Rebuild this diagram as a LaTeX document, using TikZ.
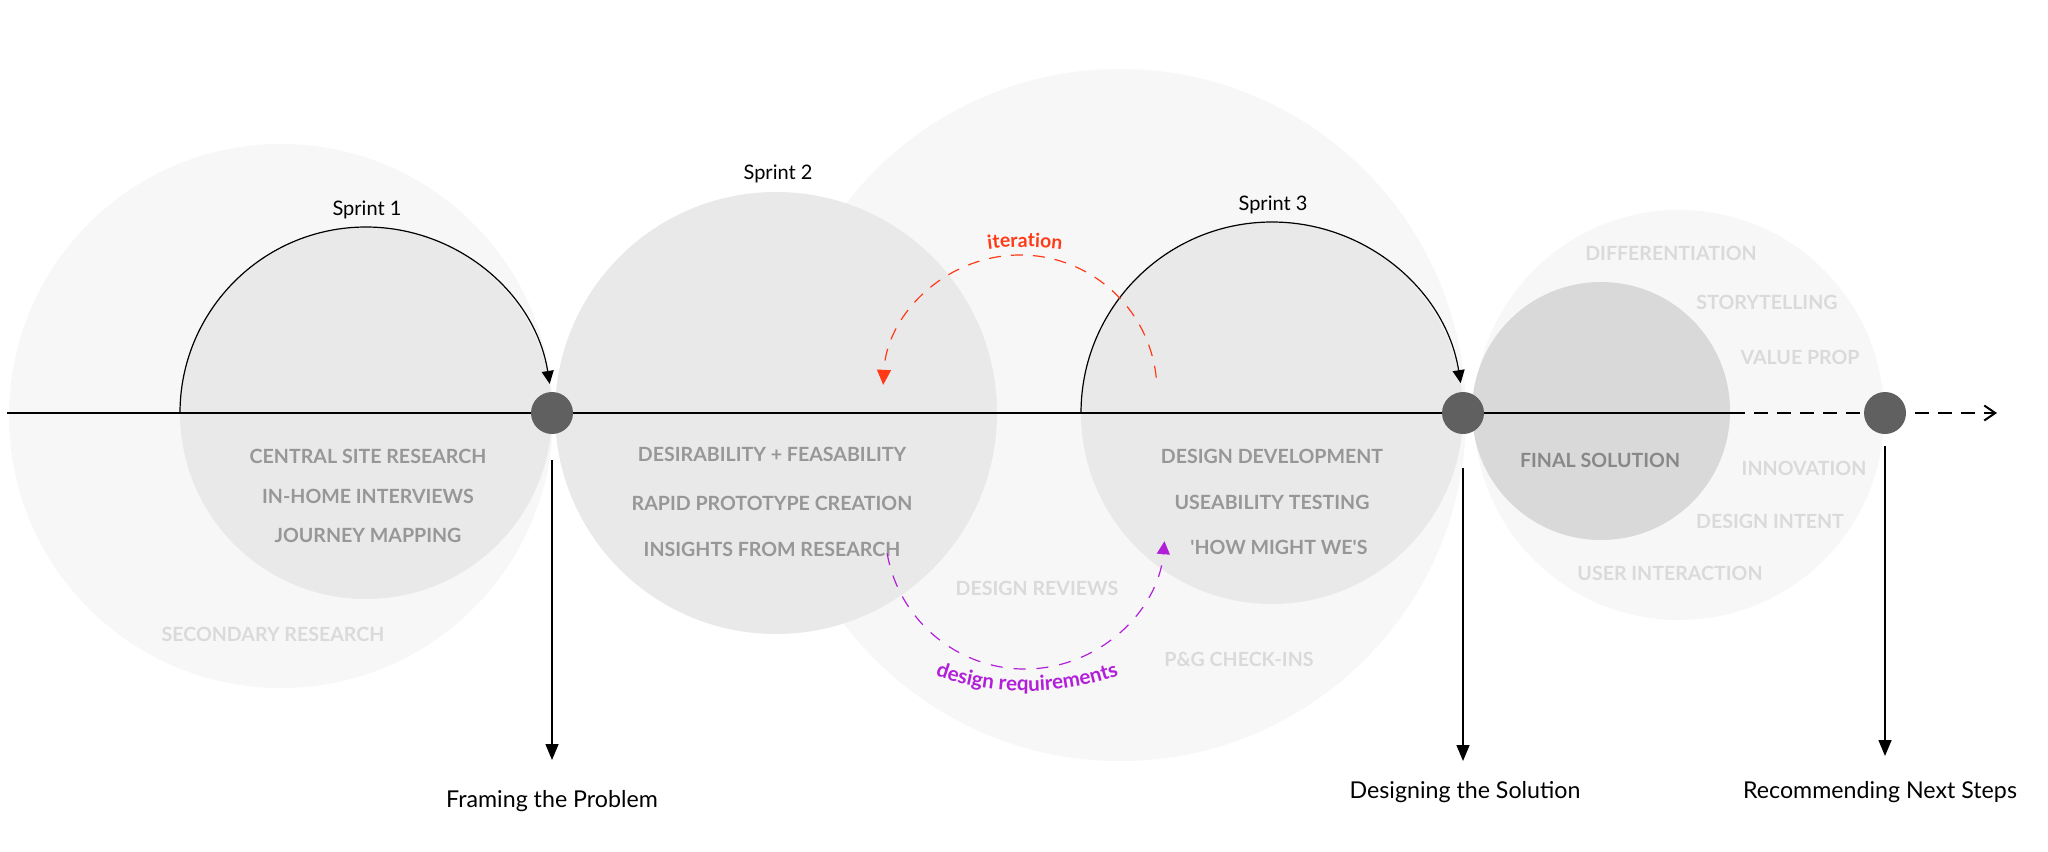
\documentclass[tikz,border=0pt]{standalone}
\usepackage{fontspec}
\setmainfont{Lato}
\usetikzlibrary{arrows.meta,calc,decorations.text}
\definecolor{bglight}{HTML}{F7F7F7}
\definecolor{sprintfill}{HTML}{E9E9E9}
\definecolor{finalfill}{HTML}{D9D9D9}
\definecolor{dotgray}{HTML}{606060}
\definecolor{midtext}{HTML}{979797}
\definecolor{lighttext}{HTML}{DADADA}
\definecolor{finaltext}{HTML}{888888}
\definecolor{iterred}{HTML}{FF3A17}
\definecolor{reqpurple}{HTML}{B21FD9}
\newcommand{\itemfnt}{\bfseries\fontsize{9.8pt}{11pt}\selectfont}
\newcommand{\arcfnt}{\bfseries\fontsize{9.7pt}{11pt}\selectfont}
\newcommand{\reqfnt}{\bfseries\fontsize{10.3pt}{12pt}\selectfont}
\begin{document}
\begin{tikzpicture}[x=0.5pt,y=-0.5pt,
  disc/.style={circle,inner sep=0pt,outer sep=0pt,draw=none},
  bgdisc/.style={disc,fill=bglight},
  sprintdisc/.style={disc,fill=sprintfill},
  finaldisc/.style={disc,fill=finalfill},
  dot/.style={disc,fill=dotgray,minimum size=21pt},
  mainline/.style={line width=1pt,black},
  sprintarc/.style={line width=0.6pt,black,-{Triangle[length=6.5pt,width=6pt]}},
  downarrow/.style={line width=0.75pt,black,-{Triangle[length=8pt,width=6.5pt]}},
  itemtext/.style={font=\itemfnt,text=midtext,inner sep=0pt},
  fainttext/.style={font=\itemfnt,text=lighttext,inner sep=0pt},
  finaltxt/.style={font=\itemfnt,text=finaltext,inner sep=0pt},
  sprintlab/.style={font=\fontsize{10pt}{12pt}\selectfont,text=black,inner sep=0pt,anchor=base},
  phaselab/.style={font=\fontsize{11.6pt}{13pt}\selectfont,text=black,inner sep=0pt,anchor=base},
  iterline/.style={line width=0.6pt,iterred,dash pattern=on 6pt off 5pt,-{Triangle[length=7.5pt,width=7pt]}},
  reqline/.style={line width=0.6pt,reqpurple,dash pattern=on 6pt off 5.5pt,-{Triangle[length=6.5pt,width=6.5pt]}}
]
\useasboundingbox[fill=white] (0,0) rectangle (2048,851);

% background discs
\node[bgdisc,minimum size=272pt] (bg1) at (281,416) {};
\node[bgdisc,minimum size=346pt] (bg3) at (1120,415) {};
\node[bgdisc,minimum size=205pt] (bg4) at (1679,415) {};
% sprint discs
\node[sprintdisc,minimum size=186pt] (s1) at (366,413) {};
\node[sprintdisc,minimum size=221pt] (s2) at (776,413) {};
\node[sprintdisc,minimum size=191pt] (s3) at (1272,413) {};
\node[finaldisc,minimum size=129pt] (fin) at (1601,411) {};

% faint items
\node[fainttext] (t1) at (273,634) {SECONDARY RESEARCH};
\node[fainttext] (t2) at (1037,588) {DESIGN REVIEWS};
\node[fainttext] (t3) at (1239,659) {P\&G CHECK-INS};
\node[fainttext] (t4) at (1671,253) {DIFFERENTIATION};
\node[fainttext] (t5) at (1767,302) {STORYTELLING};
\node[fainttext] (t6) at (1800,357) {VALUE PROP};
\node[fainttext] (t7) at (1804,468) {INNOVATION};
\node[fainttext] (t8) at (1770,521) {DESIGN INTENT};
\node[fainttext] (t9) at (1670,573) {USER INTERACTION};

% sprint items
\node[itemtext] (a1) at (368,456) {CENTRAL SITE RESEARCH};
\node[itemtext] (a2) at (368,496) {IN-HOME INTERVIEWS};
\node[itemtext] (a3) at (368,535) {JOURNEY MAPPING};
\node[itemtext] (b1) at (772,454) {DESIRABILITY + FEASABILITY};
\node[itemtext] (b2) at (772,503) {RAPID PROTOTYPE CREATION};
\node[itemtext] (b3) at (772,549) {INSIGHTS FROM RESEARCH};
\node[itemtext] (c1) at (1272,456) {DESIGN DEVELOPMENT};
\node[itemtext] (c2) at (1272,502) {USEABILITY TESTING};
\node[itemtext] (c3) at (1279,547) {\textquotesingle HOW MIGHT WE\textquotesingle S};
\node[finaltxt] (f1) at (1600,460) {FINAL SOLUTION};

% main timeline
\coordinate (lstart) at (7,413);
\coordinate (lsolid) at (1731,413);
\coordinate (lend) at (1997,413);
\draw[mainline] (lstart) -- (lsolid);
\draw[mainline,dash pattern=on 7pt off 4.5pt,-{Straight Barb[length=5.5pt,width=7.5pt]}] (lsolid) -- (lend);

% sprint arcs
\draw[sprintarc] (s1.west) arc[start angle=180,end angle=351,radius=186];
\draw[sprintarc] (s3.west) arc[start angle=180,end angle=351,radius=191];

% milestone dots
\node[dot] (d1) at (552,413) {};
\node[dot] (d2) at (1463,413) {};
\node[dot] (d3) at (1885,413) {};

% sprint labels
\node[sprintlab] (sp1) at (367,215) {Sprint 1};
\node[sprintlab] (sp2) at (778,179) {Sprint 2};
\node[sprintlab] (sp3) at (1273,210) {Sprint 3};

% phase arrows and labels
\node[phaselab] (p1) at (552,807) {Framing the Problem};
\node[phaselab] (p2) at (1465,798) {Designing the Solution};
\node[phaselab] (p3) at (1880,798) {Recommending Next Steps};
\coordinate (v1s) at (552,460);
\coordinate (v1e) at (552,760);
\coordinate (v2s) at (1463,468);
\coordinate (v2e) at (1463,761);
\coordinate (v3s) at (1885,446);
\coordinate (v3e) at (1885,756);
\draw[downarrow] (v1s) -- (v1e);
\draw[downarrow] (v2s) -- (v2e);
\draw[downarrow] (v3s) -- (v3e);

% iteration loop
\coordinate (ic) at (1020,392);
\draw[iterline] ($(ic)+(354:137)$) arc[start angle=354,end angle=183,radius=137];
\coordinate (itc) at (1025,547);
\path[decorate,decoration={text along path,text align=center,text color=iterred,text={|\arcfnt|iteration}}]
  ($(itc)+(255:300)$) arc[start angle=255,end angle=285,radius=300];

% design requirements loop
\coordinate (rc) at (1025,529);
\draw[reqline] ($(rc)+(170:140)$) arc[start angle=170,end angle=5,radius=140];
\coordinate (rtc) at (1027,414);
\path[decorate,decoration={text along path,text align=center,text color=reqpurple,text={|\reqfnt|design requirements}}]
  ($(rtc)+(130:277)$) arc[start angle=130,end angle=50,radius=277];
\end{tikzpicture}
\end{document}
